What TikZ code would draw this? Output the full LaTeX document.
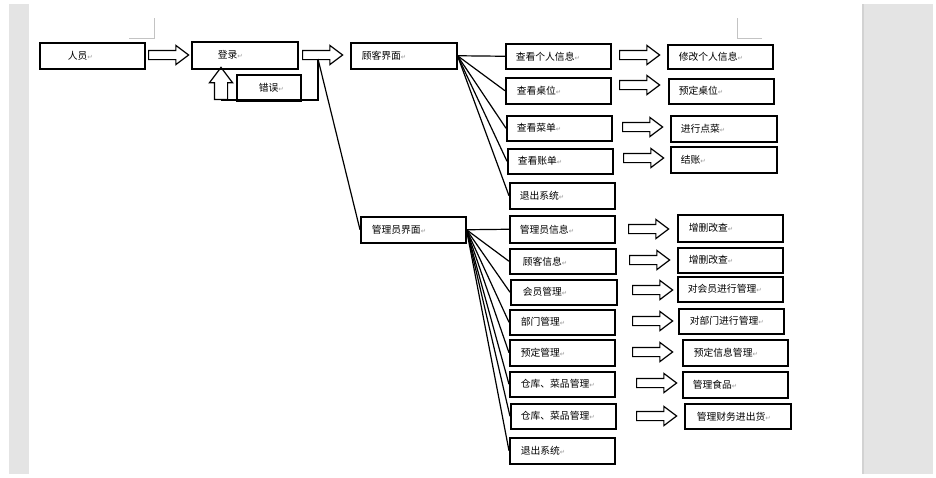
\documentclass[tikz,border=0pt]{standalone}
\usepackage{fontspec}
\setmainfont{Noto Sans CJK SC}
\newfontfamily\markfont{DejaVu Sans}
\usetikzlibrary{shapes.arrows}
\definecolor{pagegray}{RGB}{228,228,228}
\definecolor{edgegray}{RGB}{210,210,210}
\definecolor{cropgray}{RGB}{195,195,195}
\newcommand{\pmark}{{\markfont\fontsize{6.5}{6.5}\selectfont\color{black!40}↵}}
\newcommand{\Cell}[7]{%
  \pgfmathsetmacro\cellw{#4-2*#6}%
  \node[cell,minimum width=#4,minimum height=#5,text width=\cellw pt,inner xsep=#6] (#1) at (#2,#3) {#7\pmark};}
\newcommand{\Fat}[3]{\node[fat] (#1) at (#2,#3) {};}
\tikzset{
  cell/.style={draw,line width=1.5pt,rectangle,anchor=north west,inner ysep=0pt,align=left,
    font=\fontsize{9.8}{11}\selectfont},
  fat/.style={single arrow,draw,line width=1.2pt,inner sep=4pt,minimum height=40,
    single arrow head extend=5pt,single arrow tip angle=74,anchor=tail},
  link/.style={line width=1.2pt}
}

\begin{document}
\begin{tikzpicture}[x=1pt,y=-1pt]
  \useasboundingbox (0,0) rectangle (936,477);
  \fill[pagegray] (9,4) rectangle (29,474);
  \fill[pagegray] (862,4) rectangle (933,474);
  \draw[edgegray,line width=1.5pt] (863,4) -- (863,474);
  \draw[cropgray] (129,38) -- (154,38) -- (154,18);
  \draw[cropgray] (762,38) -- (737,38) -- (737,18);

  \Cell{ry}{39}{42}{105}{26}{28}{人员}
  \Cell{dl}{191}{41}{106}{27}{26}{登录}
  \Cell{cw}{236}{74}{64}{26}{22}{错误}
  \Cell{gk}{350}{42}{106}{26}{11}{顾客界面}
  \Cell{gly}{360}{216}{105}{26}{11}{管理员界面}

  \Cell{c1}{505}{43}{105}{25}{10}{查看个人信息}
  \Cell{c2}{505}{77}{105}{26}{11}{查看桌位}
  \Cell{c3}{506}{115}{105}{25}{10}{查看菜单}
  \Cell{c4}{507}{148}{105}{25}{10}{查看账单}
  \Cell{c5}{509}{182}{105}{26}{10}{退出系统}
  \Cell{d1}{667}{44}{105}{24}{11}{修改个人信息}
  \Cell{d2}{668}{78}{105}{25}{10}{预定桌位}
  \Cell{d3}{670}{115}{106}{26}{10}{进行点菜}
  \Cell{d4}{670}{146}{106}{26}{10}{结账}

  \Cell{a1}{509}{215}{105}{27}{10}{管理员信息}
  \Cell{a2}{509}{248}{106}{25}{13}{顾客信息}
  \Cell{a3}{510}{279}{106}{25}{12}{会员管理}
  \Cell{a4}{509}{309}{105}{25}{11}{部门管理}
  \Cell{a5}{509}{339}{105}{26}{11}{预定管理}
  \Cell{a6}{509}{371}{105}{25}{11}{仓库、菜品管理}
  \Cell{a7}{510}{403}{105}{25}{10}{仓库、菜品管理}
  \Cell{a8}{509}{437}{105}{26}{11}{退出系统}
  \Cell{b1}{677}{214}{105}{27}{11}{增删改查}
  \Cell{b2}{677}{247}{105}{25}{11}{增删改查}
  \Cell{b3}{677}{276}{105}{25}{10}{对会员进行管理}
  \Cell{b4}{678}{308}{105}{25}{11}{对部门进行管理}
  \Cell{b5}{682}{339}{105}{26}{11}{预定信息管理}
  \Cell{b6}{682}{371}{105}{26}{10}{管理食品}
  \Cell{b7}{684}{403}{106}{25}{12}{管理财务进出货}

  \Fat{f0}{148}{55}
  \Fat{f1}{302}{55}
  \node[fat,rotate=90,inner sep=6pt,minimum height=32] (up) at (221,100) {};
  \Fat{fc1}{619}{55}
  \Fat{fc2}{619}{85}
  \Fat{fc3}{622}{127}
  \Fat{fc4}{623}{158}
  \Fat{fa1}{628}{229}
  \Fat{fa2}{629}{260}
  \Fat{fa3}{632}{290}
  \Fat{fa4}{632}{321}
  \Fat{fa5}{632}{352}
  \Fat{fa6}{636}{383}
  \Fat{fa7}{636}{416}

  \coordinate (fork) at (318,59);
  \draw[link] (fork) |- (up.tail);
  \draw[link] (fork) -- (gly.west);
  \foreach \n in {c1,c2,c3,c4,c5}
    \draw[link] (gk.east) -- (\n.west);
  \foreach \n in {a1,a2,a3,a4,a5,a6,a7,a8}
    \draw[link] (gly.east) -- (\n.west);
\end{tikzpicture}
\end{document}
